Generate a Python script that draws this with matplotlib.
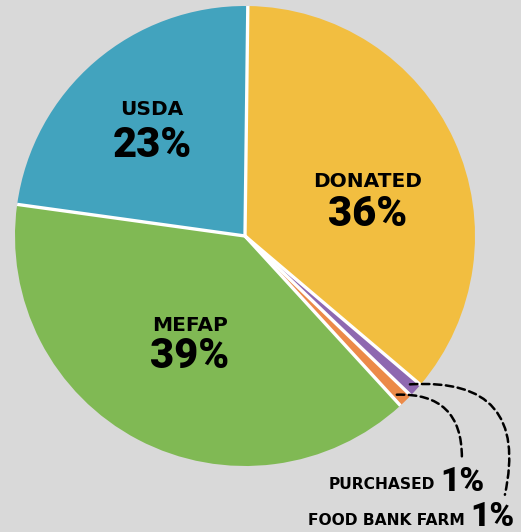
import numpy as np
import matplotlib.pyplot as plt

# pie data (clockwise from top)
labels = ['DONATED', 'FOOD BANK FARM', 'PURCHASED', 'MEFAP', 'USDA']
shares = [36, 1, 1, 39, 23]
colors = ['#f2be40', '#8e68b0', '#ec8a48', '#80b954', '#42a3be']

bg = '#d9d9d9'
fig = plt.figure(figsize=(5.21, 5.32), dpi=100, facecolor=bg)
ax = fig.add_axes([0, 0, 1, 1])
ax.set_facecolor(bg)

wedges, _ = ax.pie(shares, colors=colors, startangle=89.3, counterclock=False,
                   radius=1.0, wedgeprops=dict(linewidth=0))

# white separators only along the radial edges
for w in wedges:
    t = np.deg2rad(w.theta1)
    ax.plot([0, np.cos(t)], [0, np.sin(t)], color='white', lw=2.4,
            solid_capstyle='butt')

# map so that pie centre sits at pixel (245, 236), radius 230 px
ax.set_xlim(-245 / 230, (521 - 245) / 230)
ax.set_ylim((236 - 532) / 230, 236 / 230)
ax.set_aspect('equal')
ax.axis('off')

name_font = dict(family='DejaVu Sans', fontsize=14.5, weight='bold')
pct_font = dict(family='Roboto', fontsize=30, weight='black')

big = {'USDA': (-0.404, 0.548, 0.395),
       'DONATED': (0.535, 0.235, 0.095),
       'MEFAP': (-0.239, -0.387, -0.525)}
for name, (x, y1, y2) in big.items():
    val = shares[labels.index(name)]
    ax.text(x, y1, name, ha='center', va='center', **name_font)
    ax.text(x, y2, f'{val}%', ha='center', va='center', **pct_font)

small_font = dict(family='DejaVu Sans', fontsize=11.2, weight='bold')
small_pct = dict(family='Roboto', fontsize=24, weight='black')

# PURCHASED
ax.text(0.826, -1.08, 'PURCHASED', ha='right', va='center', **small_font)
ax.text(0.85, -1.068, f"{shares[2]}%", ha='left', va='center', **small_pct)
# FOOD BANK FARM
ax.text(0.957, -1.235, 'FOOD BANK FARM', ha='right', va='center', **small_font)
ax.text(0.978, -1.222, f"{shares[1]}%", ha='left', va='center', **small_pct)

# dashed leader lines
dash = (0, (3, 1.8))
ax.annotate('', xy=(0.943, -0.965), xytext=(0.660, -0.690),
            arrowprops=dict(arrowstyle='-', linestyle=dash, lw=1.8,
                            color='black', connectionstyle='arc3,rad=-0.52',
                            shrinkA=0, shrinkB=0))
ax.annotate('', xy=(1.13, -1.125), xytext=(0.717, -0.645),
            arrowprops=dict(arrowstyle='-', linestyle=dash, lw=1.8,
                            color='black', connectionstyle='arc3,rad=-0.66',
                            shrinkA=0, shrinkB=0))

fig.savefig('out.png', dpi=100, facecolor=bg)
